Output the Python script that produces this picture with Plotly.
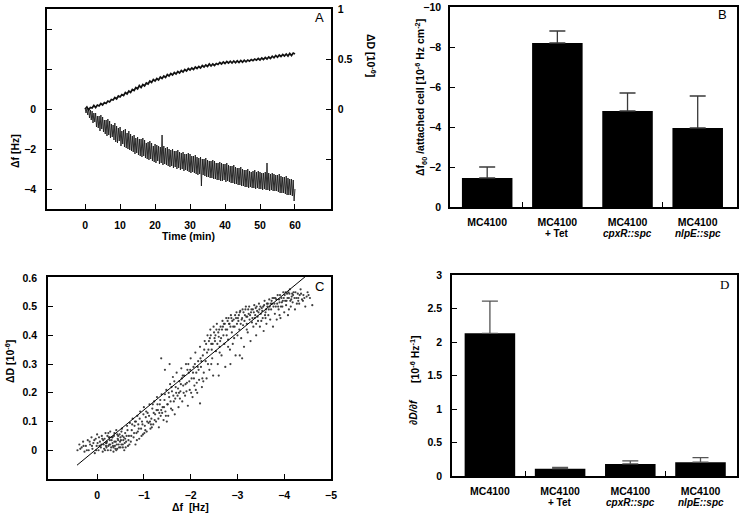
import plotly.graph_objects as go

# ---------------- data ----------------
# Panel A: Δf trace sampled every 0.25 min
time_df = [0, 0.25, 0.5, 0.75, 1, 1.25, 1.5, 1.75, 2, 2.25, 2.5, 2.75, 3, 3.25, 3.5, 3.75,
           4, 4.25, 4.5, 4.75, 5, 5.25, 5.5, 5.75, 6, 6.25, 6.5, 6.75, 7, 7.25, 7.5, 7.75,
           8, 8.25, 8.5, 8.75, 9, 9.25, 9.5, 9.75, 10, 10.25, 10.5, 10.75, 11, 11.25, 11.5, 11.75,
           12, 12.25, 12.5, 12.75, 13, 13.25, 13.5, 13.75, 14, 14.25, 14.5, 14.75, 15, 15.25, 15.5, 15.75,
           16, 16.25, 16.5, 16.75, 17, 17.25, 17.5, 17.75, 18, 18.25, 18.5, 18.75, 19, 19.25, 19.5, 19.75,
           20, 20.25, 20.5, 20.75, 21, 21.25, 21.5, 21.75, 22, 22.25, 22.5, 22.75, 23, 23.25, 23.5, 23.75,
           24, 24.25, 24.5, 24.75, 25, 25.25, 25.5, 25.75, 26, 26.25, 26.5, 26.75, 27, 27.25, 27.5, 27.75,
           28, 28.25, 28.5, 28.75, 29, 29.25, 29.5, 29.75, 30, 30.25, 30.5, 30.75, 31, 31.25, 31.5, 31.75,
           32, 32.25, 32.5, 32.75, 33, 33.25, 33.5, 33.75, 34, 34.25, 34.5, 34.75, 35, 35.25, 35.5, 35.75,
           36, 36.25, 36.5, 36.75, 37, 37.25, 37.5, 37.75, 38, 38.25, 38.5, 38.75, 39, 39.25, 39.5, 39.75,
           40, 40.25, 40.5, 40.75, 41, 41.25, 41.5, 41.75, 42, 42.25, 42.5, 42.75, 43, 43.25, 43.5, 43.75,
           44, 44.25, 44.5, 44.75, 45, 45.25, 45.5, 45.75, 46, 46.25, 46.5, 46.75, 47, 47.25, 47.5, 47.75,
           48, 48.25, 48.5, 48.75, 49, 49.25, 49.5, 49.75, 50, 50.25, 50.5, 50.75, 51, 51.25, 51.5, 51.75,
           52, 52.25, 52.5, 52.75, 53, 53.25, 53.5, 53.75, 54, 54.25, 54.5, 54.75, 55, 55.25, 55.5, 55.75,
           56, 56.25, 56.5, 56.75, 57, 57.25, 57.5, 57.75, 58, 58.25, 58.5, 58.75, 59, 59.25, 59.5, 59.75,
           60]
# Δf [Hz] (left axis)
A_df = [0.05, -0.2, 0.0, -0.3, 0.05, -0.45, -0.05, -0.55, -0.1, -0.7, -0.2, -0.65,
        -0.2, -0.9, -0.35, -0.95, -0.35, -1.1, -0.3, -1.0, -0.4, -1.15, -0.55, -1.25,
        -0.55, -1.35, -0.5, -1.3, -0.6, -1.45, -0.75, -1.4, -0.8, -1.55, -0.7, -1.65,
        -0.85, -1.7, -0.95, -1.6, -0.9, -1.85, -1.1, -1.75, -1.05, -1.9, -1.0, -1.95,
        -1.2, -2.0, -1.1, -2.05, -1.25, -2.1, -1.35, -2.15, -1.3, -2.25, -1.45, -2.2,
        -1.4, -2.3, -1.5, -2.35, -1.5, -2.4, -1.45, -2.35, -1.55, -2.45, -1.7, -2.5,
        -1.65, -2.55, -1.6, -2.5, -1.7, -2.6, -1.85, -2.65, -1.75, -2.7, -1.8, -2.6,
        -1.85, -2.75, -1.9, -2.7, -1.3, -2.8, -1.85, -2.75, -1.95, -2.8, -1.9, -2.85,
        -2.0, -2.9, -2.05, -2.85, -2.0, -2.95, -2.1, -2.9, -2.1, -3.0, -2.05, -2.95,
        -2.15, -3.05, -2.2, -3.0, -2.15, -3.1, -2.25, -3.05, -2.25, -3.1, -2.2, -3.15,
        -2.25, -3.2, -2.35, -3.15, -2.35, -3.2, -2.3, -3.25, -2.4, -3.3, -2.45, -3.25,
        -2.4, -3.85, -2.5, -3.3, -2.5, -3.35, -2.45, -3.4, -2.55, -3.4, -2.6, -3.45,
        -2.6, -3.45, -2.55, -3.5, -2.6, -3.5, -2.7, -3.55, -2.7, -3.55, -2.65, -3.6,
        -2.7, -3.6, -2.75, -3.55, -2.75, -3.65, -2.7, -3.6, -2.8, -3.65, -2.85, -3.7,
        -2.85, -3.7, -2.8, -3.75, -2.9, -3.75, -2.95, -3.8, -2.95, -3.8, -2.9, -3.85,
        -3.0, -3.85, -3.05, -3.9, -3.05, -3.9, -3.0, -3.95, -3.1, -3.9, -3.15, -3.95,
        -3.1, -3.95, -3.05, -4.0, -3.15, -3.95, -3.1, -4.0, -3.15, -4.0, -3.2, -4.05,
        -3.2, -4.0, -3.15, -4.05, -2.7, -4.05, -3.2, -4.1, -3.25, -4.05, -3.2, -4.1,
        -3.25, -4.1, -3.3, -4.1, -3.3, -4.15, -3.25, -4.2, -3.35, -4.2, -3.4, -4.2,
        -3.4, -4.25, -3.35, -4.3, -3.45, -4.3, -3.5, -4.3, -3.5, -4.35, -3.55, -4.6,
        -4.0]
# Panel A: ΔD trace sampled every 0.5 min
time_dD = [0, 0.5, 1, 1.5, 2, 2.5, 3, 3.5, 4, 4.5, 5, 5.5, 6, 6.5, 7, 7.5, 8, 8.5, 9, 9.5,
           10, 10.5, 11, 11.5, 12, 12.5, 13, 13.5, 14, 14.5, 15, 15.5, 16, 16.5, 17, 17.5, 18, 18.5, 19, 19.5,
           20, 20.5, 21, 21.5, 22, 22.5, 23, 23.5, 24, 24.5, 25, 25.5, 26, 26.5, 27, 27.5, 28, 28.5, 29, 29.5,
           30, 30.5, 31, 31.5, 32, 32.5, 33, 33.5, 34, 34.5, 35, 35.5, 36, 36.5, 37, 37.5, 38, 38.5, 39, 39.5,
           40, 40.5, 41, 41.5, 42, 42.5, 43, 43.5, 44, 44.5, 45, 45.5, 46, 46.5, 47, 47.5, 48, 48.5, 49, 49.5,
           50, 50.5, 51, 51.5, 52, 52.5, 53, 53.5, 54, 54.5, 55, 55.5, 56, 56.5, 57, 57.5, 58, 58.5, 59, 59.5,
           60]
# ΔD [1e-6] (right axis)
A_dD = [0.0, 0.02, -0.01, 0.015, 0.01, 0.035, 0.015, 0.04, 0.03, 0.055, 0.04, 0.065,
        0.055, 0.08, 0.07, 0.095, 0.09, 0.115, 0.1, 0.13, 0.12, 0.145, 0.135, 0.165,
        0.15, 0.18, 0.165, 0.195, 0.185, 0.215, 0.2, 0.235, 0.215, 0.245, 0.23, 0.26,
        0.25, 0.28, 0.265, 0.295, 0.28, 0.305, 0.29, 0.32, 0.305, 0.33, 0.315, 0.345,
        0.33, 0.355, 0.34, 0.365, 0.35, 0.375, 0.36, 0.385, 0.37, 0.395, 0.38, 0.405,
        0.39, 0.41, 0.395, 0.42, 0.405, 0.425, 0.41, 0.435, 0.42, 0.44, 0.425, 0.45,
        0.43, 0.45, 0.435, 0.455, 0.445, 0.465, 0.45, 0.47, 0.455, 0.475, 0.46, 0.478,
        0.46, 0.48, 0.462, 0.482, 0.465, 0.485, 0.468, 0.488, 0.472, 0.49, 0.478, 0.495,
        0.483, 0.5, 0.488, 0.505, 0.49, 0.51, 0.495, 0.515, 0.5, 0.52, 0.505, 0.528,
        0.512, 0.535, 0.518, 0.54, 0.525, 0.545, 0.53, 0.55, 0.53, 0.555, 0.535, 0.56,
        0.55]

# Panels B and D: strains
strain_line1 = ["MC4100", "MC4100", "MC4100", "MC4100"]
strain_line2 = ["", "+ Tet", "<i>cpxR::spc</i>", "<i>nlpE::spc</i>"]
B_df60 = [-1.45, -8.2, -4.8, -3.95]
B_err = [0.55, 0.6, 0.9, 1.6]
D_ratio = [2.13, 0.11, 0.18, 0.205]
D_err = [0.48, 0.02, 0.045, 0.07]

# Panel C: scatter of ΔD vs Δf
C_df = [0.42, 0.38, 0.33, 0.3, 0.27, 0.24, 0.2, 0.18, 0.15, 0.12, 0.1, 0.08, 0.05, 0.03, 0.01, 0.0,
        -0.03, -0.06, -0.08, -0.1, -0.12, -0.14, -0.16, -0.18, -0.2, -0.21, -0.23, -0.25, -0.26, -0.28, -0.3,
        -0.31, -0.33, -0.35, -0.36, -0.38, -0.4, -0.41, -0.43, -0.44, -0.46, -0.48, -0.5, -0.51, -0.53, -0.55,
        -0.57, -0.58, -0.6, -0.62, -0.64, -0.66, -0.68, -0.7,
        -0.72, -0.74, -0.76, -0.78, -0.8, -0.82, -0.84, -0.86, -0.88, -0.9, -0.92, -0.94, -0.96, -0.98, -1.0,
        -1.02, -1.04, -1.06, -1.08, -1.1, -1.12, -1.14, -1.16, -1.18, -1.2, -1.22, -1.24, -1.26, -1.28, -1.3,
        -1.32, -1.34, -1.36, -1.38, -1.4, -1.42, -1.44, -1.46, -1.48, -1.5,
        -1.52, -1.54, -1.56, -1.58, -1.6, -1.62, -1.64, -1.66, -1.68, -1.7, -1.72, -1.74, -1.76, -1.78, -1.8,
        -1.82, -1.84, -1.86, -1.88, -1.9, -1.92, -1.94, -1.96, -1.98, -2.0, -2.02, -2.04, -2.06, -2.08, -2.1,
        -2.12, -2.14, -2.16, -2.18, -2.2, -2.22, -2.24, -2.26, -2.28, -2.3, -1.37, -1.45, -1.55, -2.2,
        -2.32, -2.34, -2.36, -2.38, -2.4, -2.42, -2.44, -2.46, -2.48, -2.5, -2.52, -2.54, -2.56, -2.58, -2.6,
        -2.62, -2.64, -2.66, -2.68, -2.7, -2.72, -2.74, -2.76, -2.78, -2.8, -2.82, -2.84, -2.86, -2.88, -2.9,
        -2.92, -2.94, -2.96, -2.98, -3.0, -2.6, -3.1, -3.05, -2.85,
        -3.02, -3.04, -3.06, -3.08, -3.1, -3.12, -3.14, -3.16, -3.18, -3.2, -3.22, -3.24, -3.26, -3.28, -3.3,
        -3.32, -3.34, -3.36, -3.38, -3.4, -3.42, -3.44, -3.46, -3.48, -3.5, -3.52, -3.54, -3.56, -3.58, -3.6,
        -3.62, -3.64, -3.66, -3.68, -3.7,
        -3.72, -3.74, -3.76, -3.78, -3.8, -3.82, -3.84, -3.86, -3.88, -3.9, -3.92, -3.94, -3.96, -3.98, -4.0,
        -4.02, -4.04, -4.06, -4.08, -4.1, -4.12, -4.14, -4.16, -4.18, -4.2, -4.23, -4.26, -4.29, -4.32, -4.35,
        -4.38, -4.41, -4.45, -4.5, -4.55, -4.6,
        0.36, 0.29, 0.22, 0.16, 0.11, 0.06, 0.02, -0.01,
        -0.04, -0.09, -0.13, -0.17, -0.19, -0.22, -0.24, -0.27, -0.29, -0.32, -0.34, -0.37, -0.39, -0.42,
        -0.45, -0.47, -0.49, -0.52, -0.54, -0.56, -0.59, -0.61, -0.63, -0.65, -0.67, -0.69,
        -0.75, -0.79, -0.83, -0.87, -0.91, -0.95, -0.99, -1.03, -1.07, -1.11, -1.15, -1.19, -1.23, -1.27,
        -1.31, -1.35, -1.39, -1.43, -1.47,
        -1.53, -1.57, -1.61, -1.65, -1.69, -1.73, -1.77, -1.81, -1.85, -1.89, -1.93, -1.97, -2.01, -2.05,
        -2.09, -2.13, -2.17, -2.21, -2.25, -2.29,
        -2.33, -2.37, -2.41, -2.45, -2.49, -2.53, -2.57, -2.61, -2.65, -2.69, -2.73, -2.77, -2.81, -2.85,
        -2.89, -2.93, -2.97,
        -3.03, -3.07, -3.11, -3.15, -3.19, -3.23, -3.27, -3.31, -3.35, -3.39, -3.43, -3.47, -3.51, -3.55,
        -3.59, -3.63, -3.67, -3.69,
        -3.73, -3.77, -3.81, -3.85, -3.89, -3.93, -3.97, -4.01, -4.05, -4.09, -4.13, -4.17, -4.22, -4.27,
        -4.33, -4.4, -4.48,
        -0.05, -0.11, -0.15, -0.2, -0.24, -0.28, -0.33, -0.37, -0.41, -0.45, -0.5, -0.55, -0.6, -0.35,
        -0.27, -0.43, -0.19, -0.52,
        -0.73, -0.81, -0.89, -0.97, -1.05, -1.13, -1.21, -1.29, -1.37, -1.45, -1.51, -1.59, -1.67, -1.75,
        -1.83, -1.91, -1.99, -2.07, -2.15, -2.23, -0.85, -1.01, -1.17, -1.33, -1.49, -1.63, -1.79, -1.95,
        -2.11, -2.27,
        -2.35, -2.39, -2.43, -2.47, -2.51, -2.55, -2.59, -2.63, -2.67, -2.71, -2.75, -2.79, -2.83, -2.87,
        -2.91, -2.95, -2.99, -2.44, -2.62, -2.8,
        -3.01, -3.05, -3.09, -3.13, -3.17, -3.21, -3.25, -3.29, -3.33, -3.37, -3.41, -3.45, -3.49, -3.53,
        -3.57, -3.61, -3.65, -3.2, -3.4, -3.6,
        -3.71, -3.75, -3.79, -3.83, -3.87, -3.91, -3.95, -3.99, -4.03, -4.07, -4.11, -4.15, -4.19, -4.24,
        -4.3, -4.36, -4.43, -4.52, -3.9, -4.1, -4.3]
C_dD = [0.0, 0.02, 0.01, 0.03, -0.005, 0.015, 0.035, 0.0, 0.02, 0.045, 0.005, 0.025, -0.01, 0.04, 0.015, 0.055,
        0.0, 0.03, 0.01, 0.05, -0.005, 0.02, 0.04, 0.06, 0.01, 0.03, 0.0, 0.045, 0.02, 0.065, 0.01,
        0.035, 0.025, -0.005, 0.05, 0.015, 0.03, 0.07, 0.005, 0.04, 0.02, 0.055, 0.01, 0.035, 0.075, 0.02,
        0.045, 0.0, 0.06, 0.03, 0.085, 0.015, 0.05, 0.095,
        0.03, 0.07, 0.11, 0.045, 0.085, 0.02, 0.06, 0.12, 0.09, 0.04, 0.135, 0.075, 0.1, 0.055, 0.15,
        0.085, 0.115, 0.065, 0.13, 0.095, 0.16, 0.075, 0.11, 0.145, 0.09, 0.17, 0.125, 0.1, 0.185, 0.14,
        0.08, 0.16, 0.12, 0.195, 0.15, 0.105, 0.175, 0.135, 0.21, 0.16,
        0.12, 0.185, 0.23, 0.145, 0.205, 0.255, 0.17, 0.125, 0.22, 0.27, 0.19, 0.15, 0.24, 0.205, 0.285,
        0.17, 0.225, 0.26, 0.19, 0.3, 0.235, 0.155, 0.27, 0.21, 0.32, 0.25, 0.185, 0.29, 0.225, 0.34,
        0.27, 0.2, 0.31, 0.245, 0.36, 0.29, 0.22, 0.33, 0.27, 0.38, 0.32, 0.28, 0.3, 0.163,
        0.31, 0.25, 0.4, 0.35, 0.28, 0.42, 0.37, 0.32, 0.26, 0.41, 0.38, 0.345, 0.44, 0.3, 0.395,
        0.36, 0.43, 0.33, 0.45, 0.4, 0.37, 0.29, 0.46, 0.42, 0.385, 0.44, 0.35, 0.47, 0.41, 0.37,
        0.455, 0.43, 0.33, 0.48, 0.4, 0.26, 0.32, 0.33, 0.3,
        0.45, 0.42, 0.485, 0.39, 0.46, 0.435, 0.36, 0.47, 0.5, 0.44, 0.41, 0.475, 0.455, 0.38, 0.49,
        0.46, 0.43, 0.505, 0.47, 0.4, 0.485, 0.45, 0.51, 0.43, 0.475, 0.495, 0.46, 0.415, 0.52, 0.48,
        0.44, 0.5, 0.47, 0.525, 0.455,
        0.49, 0.51, 0.43, 0.53, 0.475, 0.5, 0.455, 0.54, 0.49, 0.515, 0.46, 0.53, 0.5, 0.55, 0.48,
        0.52, 0.505, 0.545, 0.47, 0.53, 0.56, 0.5, 0.535, 0.515, 0.55, 0.49, 0.53, 0.545, 0.51, 0.56,
        0.525, 0.54, 0.5, 0.55, 0.53, 0.505,
        0.005, 0.015, 0.0, 0.03, 0.015, 0.035, 0.0, 0.025,
        0.045, 0.02, 0.035, 0.0, 0.025, 0.05, 0.015, 0.035, 0.0, 0.045, 0.015, 0.03, 0.005, 0.02,
        0.05, 0.01, 0.03, 0.02, 0.05, 0.035, 0.025, 0.01, 0.05, 0.07, 0.035, 0.02,
        0.09, 0.06, 0.1, 0.065, 0.11, 0.05, 0.125, 0.07, 0.1, 0.12, 0.09, 0.16, 0.105, 0.14,
        0.11, 0.175, 0.13, 0.15, 0.12,
        0.2, 0.17, 0.14, 0.24, 0.2, 0.215, 0.18, 0.25, 0.2, 0.23, 0.28, 0.24, 0.2, 0.27,
        0.3, 0.235, 0.28, 0.32, 0.25, 0.35,
        0.37, 0.3, 0.39, 0.35, 0.43, 0.4, 0.37, 0.42, 0.39, 0.43, 0.44, 0.4, 0.46, 0.43,
        0.45, 0.39, 0.46,
        0.47, 0.44, 0.49, 0.45, 0.465, 0.49, 0.47, 0.445, 0.48, 0.495, 0.465, 0.49, 0.45, 0.5,
        0.47, 0.51, 0.49, 0.5,
        0.52, 0.5, 0.53, 0.51, 0.525, 0.5, 0.52, 0.54, 0.52, 0.55, 0.52, 0.545, 0.53, 0.51,
        0.54, 0.52, 0.535,
        0.015, 0.04, 0.005, 0.025, 0.06, 0.02, 0.045, 0.06, 0.0, 0.035, 0.045, 0.01, 0.04, 0.01,
        0.045, 0.055, 0.015, 0.065,
        0.05, 0.1, 0.075, 0.09, 0.135, 0.1, 0.13, 0.16, 0.14, 0.195, 0.16, 0.22, 0.18, 0.2,
        0.26, 0.205, 0.28, 0.25, 0.29, 0.31, 0.035, 0.06, 0.08, 0.13, 0.1, 0.19, 0.23, 0.3,
        0.21, 0.24,
        0.34, 0.38, 0.4, 0.37, 0.39, 0.42, 0.41, 0.38, 0.42, 0.44, 0.42, 0.45, 0.44, 0.46,
        0.43, 0.47, 0.44, 0.3, 0.34, 0.36,
        0.46, 0.48, 0.455, 0.48, 0.49, 0.465, 0.5, 0.48, 0.49, 0.46, 0.5, 0.48, 0.5, 0.485,
        0.505, 0.49, 0.51, 0.42, 0.44, 0.46,
        0.51, 0.53, 0.51, 0.525, 0.5, 0.54, 0.515, 0.53, 0.55, 0.53, 0.545, 0.525, 0.54, 0.55,
        0.53, 0.545, 0.53, 0.54, 0.47, 0.49, 0.52]
# fitted line end points
C_fit_df = [0.43, -4.47]
C_fit_dD = [-0.052, 0.607]

# ---------------- layout helpers ----------------
W, H = 743, 515


def px(x):
    return x / W


def py(y):
    return 1 - y / H


FONT = "Liberation Sans, Arial, sans-serif"
TF = dict(family=FONT, size=10.5, color="black", weight="bold")
cat_pos = list(range(len(strain_line1)))

fig = go.Figure()

# Panel A
fig.add_trace(go.Scatter(x=time_df, y=A_df, mode="lines", line=dict(color="#1a1a1a", width=0.9),
                         xaxis="x", yaxis="y", showlegend=False))
fig.add_trace(go.Scatter(x=time_dD, y=A_dD, mode="lines", line=dict(color="#111111", width=1.7),
                         xaxis="x", yaxis="y2", showlegend=False))
# Panel B
fig.add_trace(go.Bar(x=cat_pos, y=B_df60, width=0.72, marker=dict(color="black", line=dict(width=0)),
                     error_y=dict(type="data", symmetric=False, array=[0] * len(B_err), arrayminus=B_err,
                                  color="#3a3a3a", thickness=1.3, width=8),
                     xaxis="x2", yaxis="y3", showlegend=False))
# Panel C
fig.add_trace(go.Scatter(x=C_df, y=C_dD, mode="markers",
                         marker=dict(size=2.2, color="#2a2a2a", opacity=0.9, line=dict(width=0)),
                         xaxis="x3", yaxis="y4", showlegend=False))
fig.add_trace(go.Scatter(x=C_fit_df, y=C_fit_dD, mode="lines", line=dict(color="black", width=1),
                         xaxis="x3", yaxis="y4", showlegend=False))
# Panel D
fig.add_trace(go.Bar(x=cat_pos, y=D_ratio, width=0.72, marker=dict(color="black", line=dict(width=0)),
                     error_y=dict(type="data", symmetric=False, array=D_err, arrayminus=[0] * len(D_err),
                                  color="#555555", thickness=1.3, width=8),
                     xaxis="x4", yaxis="y5", showlegend=False))

axis_common = dict(showline=True, linecolor="black", linewidth=1.5, mirror=True, showgrid=False,
                   zeroline=False, ticks="inside", ticklen=5, tickcolor="black", tickwidth=1.2,
                   tickfont=TF, automargin=False)
minor_in = dict(ticks="inside", ticklen=5, tickcolor="black", tickwidth=1.2, tickmode="array", showgrid=False)

fig.update_layout(
    width=W, height=H, template="none", autosize=False,
    margin=dict(l=0, r=0, t=0, b=0),
    paper_bgcolor="white", plot_bgcolor="white",
    showlegend=False,
    # A
    xaxis=dict(axis_common, domain=[px(47), px(331)], range=[-10.9, 70.3], anchor="y",
               tickvals=[0, 10, 20, 30, 40, 50, 60], ticklabelstandoff=6),
    yaxis=dict(axis_common, domain=[py(209), py(9)], range=[-5, 5], anchor="x",
               tickvals=[-4, -2, 0], minor=dict(minor_in, tickvals=[2, 4]), ticklabelstandoff=7),
    yaxis2=dict(axis_common, overlaying="y", side="right", anchor="x", range=[-1, 1], mirror=False,
                tickvals=[0, 0.5, 1], minor=dict(minor_in, tickvals=[-0.5]), ticklabelstandoff=3),
    # B
    xaxis2=dict(axis_common, domain=[px(450), px(737)], range=[-0.53, 3.56], anchor="y3",
                tickvals=cat_pos, ticktext=strain_line1, ticks="", ticklabelstandoff=5,
                minor=dict(minor_in, tickvals=[0.5, 2.5])),
    yaxis3=dict(axis_common, domain=[py(207), py(7)], range=[0, -10], anchor="x2",
                tickvals=[0, -2, -4, -6, -8, -10], ticklabelstandoff=5),
    # C
    xaxis3=dict(axis_common, domain=[px(48), px(331)], range=[1.05, -5.0], anchor="y4",
                tickvals=[0, -1, -2, -3, -4, -5], ticklabelstandoff=6),
    yaxis4=dict(axis_common, domain=[py(479), py(277)], range=[-0.1, 0.603], anchor="x3",
                tickvals=[0, 0.1, 0.2, 0.3, 0.4, 0.5, 0.6],
                ticktext=["0", "0.1", "0.2", "0.3", "0.4", "0.5", "0.6"], ticklabelstandoff=7),
    # D
    xaxis4=dict(axis_common, domain=[px(452), px(737)], range=[-0.54, 3.52], anchor="y5",
                tickvals=cat_pos, ticktext=strain_line1, ticks="", ticklabelstandoff=5,
                minor=dict(minor_in, tickvals=[0.5, 2.5])),
    yaxis5=dict(axis_common, domain=[py(476), py(275)], range=[0, 3], anchor="x4",
                tickvals=[0, 0.5, 1, 1.5, 2, 2.5, 3],
                ticktext=["0", "0.5", "1", "1.5", "2", "2.5", "3"], ticklabelstandoff=6),
)

TITLE_FONT = dict(family=FONT, size=10.5, color="black", weight="bold")
LINE2_FONT = dict(family=FONT, size=10, color="black", weight="bold")
ann = []


def add_text(x, y, text, angle=0, font=None, xref="paper"):
    ann.append(dict(x=x, y=py(y), xref=xref, yref="paper", text=text, showarrow=False,
                    textangle=angle, xanchor="center", yanchor="middle",
                    font=font or TITLE_FONT))


# axis titles
add_text(px(188), 236, "Time (min)")
add_text(px(15), 151, "Δf [Hz]", -90)
add_text(px(371), 55, "ΔD [10<sup>-6</sup>]", 90)
add_text(px(421), 97, "Δf<sub>60</sub> /attached cell [10<sup>-6</sup> Hz cm<sup>-2</sup>]", -90)
add_text(px(190), 507, "Δf  [Hz]")
add_text(px(9), 362, "ΔD [10<sup>-6</sup>]", -90)
add_text(px(414), 359, "[10<sup>-6</sup> Hz<sup>-1</sup>]", -90)
add_text(px(413), 412, "<i>∂D/∂f</i>", -90)

# second lines of strain tick labels
for i, t in enumerate(strain_line2):
    if t:
        ann.append(dict(x=cat_pos[i], y=py(233), xref="x2", yref="paper", text=t, showarrow=False,
                        xanchor="center", yanchor="middle", font=LINE2_FONT))
        ann.append(dict(x=cat_pos[i], y=py(502), xref="x4", yref="paper", text=t, showarrow=False,
                        xanchor="center", yanchor="middle", font=LINE2_FONT))

# panel letters
LET = dict(family=FONT, size=13, color="black")
add_text(px(319), 17, "A", font=LET)
add_text(px(722), 15, "B", font=LET)
add_text(px(319), 286, "C", font=LET)
add_text(px(724), 284, "D", font=dict(family="Liberation Serif, Times New Roman, serif", size=13, color="black"))

fig.update_layout(annotations=ann)

fig.write_html("out.html", config={"displayModeBar": False},
               post_script="document.body.style.margin='0px';")
